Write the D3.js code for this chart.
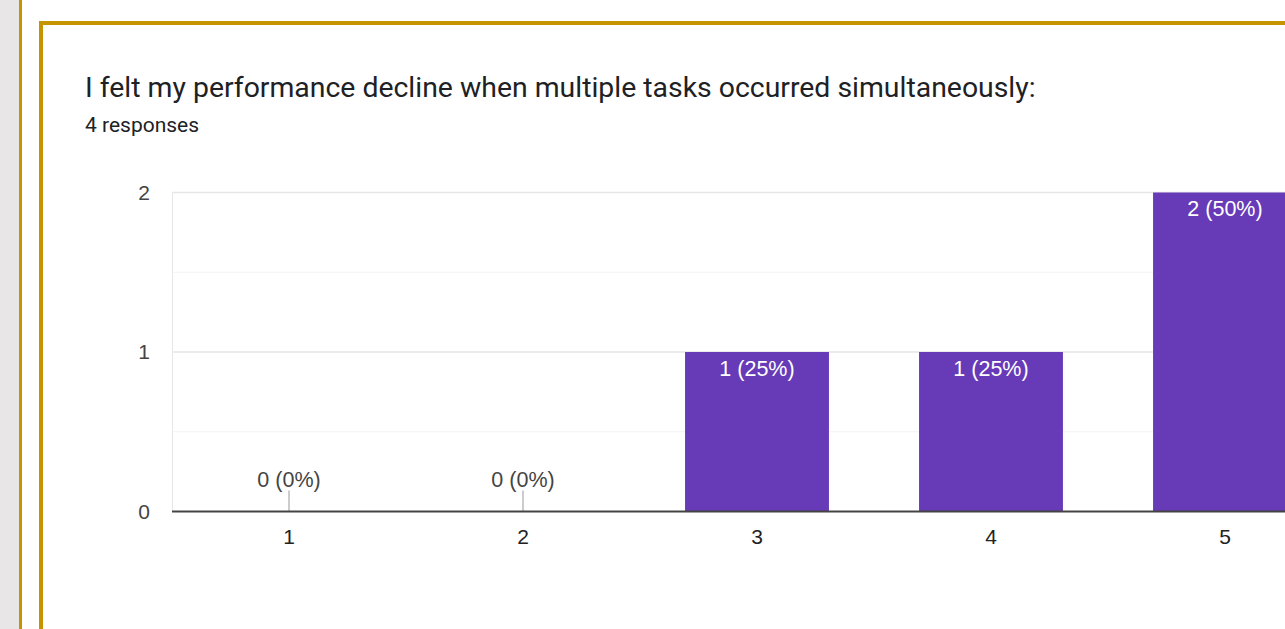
<!DOCTYPE html>
<html>
<head>
<meta charset="utf-8">
<script src="https://cdn.jsdelivr.net/npm/d3@7"></script>
<style>
  html, body { margin: 0; padding: 0; background: #ffffff; overflow: hidden; }
  svg { display: block; }
</style>
</head>
<body>
<svg id="chart" width="1285" height="629"></svg>
<script>
// Survey question and answers
const title = "I felt my performance decline when multiple tasks occurred simultaneously:";
const subtitle = "4 responses";
const categories = ["1", "2", "3", "4", "5"];
const counts = [0, 0, 1, 1, 2];
const percents = ["0%", "0%", "25%", "25%", "50%"];
const yTicks = [0, 1, 2];
const yMinorTicks = [0.5, 1.5];

const svg = d3.select("#chart");
const W = 1285, H = 629;
const gold = "#c59400";
const labelFont = "Arial, 'Liberation Sans', sans-serif";

// Page frame: grey side strip, outer gold rule, inner gold card border
svg.append("rect").attr("x", 0).attr("y", 0).attr("width", W).attr("height", H).attr("fill", "#ffffff");
svg.append("rect").attr("x", 0).attr("y", 0).attr("width", 19).attr("height", H).attr("fill", "#e8e6e6");
svg.append("rect").attr("x", 19).attr("y", 0).attr("width", 3).attr("height", H).attr("fill", gold);
svg.append("rect").attr("x", 41).attr("y", 23).attr("width", W + 20).attr("height", H + 20)
  .attr("fill", "#ffffff").attr("stroke", gold).attr("stroke-width", 4);

// Heading
svg.append("text").attr("x", 85).attr("y", 97)
  .attr("font-family", "Roboto, sans-serif").attr("font-size", 28.4).attr("fill", "#202124")
  .text(title);
svg.append("text").attr("x", 85).attr("y", 132)
  .attr("font-family", "Roboto, sans-serif").attr("font-size", 21).attr("fill", "#202124")
  .text(subtitle);

// Scales
const x = d3.scaleBand().domain(categories).range([172, 1342])
  .paddingInner(0.385).paddingOuter(0.1925);
const y = d3.scaleLinear().domain([0, 2]).range([511.5, 192.5]);

const plot = svg.append("g");

// Gridlines
plot.selectAll("line.minor").data(yMinorTicks).join("line")
  .attr("x1", 172).attr("x2", W).attr("y1", d => y(d)).attr("y2", d => y(d))
  .attr("stroke", "#f3f3f3").attr("stroke-width", 1);
plot.selectAll("line.major").data(yTicks.filter(d => d > 0)).join("line")
  .attr("x1", 172).attr("x2", W).attr("y1", d => y(d)).attr("y2", d => y(d))
  .attr("stroke", "#e6e6e6").attr("stroke-width", 1.5);
plot.append("line").attr("x1", 172.5).attr("x2", 172.5).attr("y1", y(2)).attr("y2", y(0))
  .attr("stroke", "#e6e6e6").attr("stroke-width", 1);

// Bars
const data = categories.map((c, i) => ({ c, v: counts[i], p: percents[i] }));
plot.selectAll("rect.bar").data(data.filter(d => d.v > 0)).join("rect")
  .attr("class", "bar")
  .attr("x", d => x(d.c)).attr("width", x.bandwidth())
  .attr("y", d => y(d.v)).attr("height", d => y(0) - y(d.v))
  .attr("fill", "#673ab7");

// Value labels
plot.selectAll("text.val").data(data).join("text")
  .attr("class", "val")
  .attr("x", d => x(d.c) + x.bandwidth() / 2)
  .attr("y", d => d.v > 0 ? y(d.v) + 16 : y(0) - 32)
  .attr("dy", "0.35em")
  .attr("text-anchor", "middle")
  .attr("font-family", labelFont).attr("font-size", 21.5)
  .attr("fill", d => d.v > 0 ? "#ffffff" : "#444444")
  .text(d => `${d.v} (${d.p})`);

// Stems for empty categories
plot.selectAll("line.stem").data(data.filter(d => d.v === 0)).join("line")
  .attr("x1", d => x(d.c) + x.bandwidth() / 2).attr("x2", d => x(d.c) + x.bandwidth() / 2)
  .attr("y1", y(0) - 21).attr("y2", y(0))
  .attr("stroke", "#999999").attr("stroke-width", 1);

// Baseline
plot.append("line").attr("x1", 172).attr("x2", W).attr("y1", y(0)).attr("y2", y(0))
  .attr("stroke", "#444444").attr("stroke-width", 2);

// Axes
const xAxis = svg.append("g").attr("transform", `translate(0,${y(0)})`)
  .call(d3.axisBottom(x).tickSize(0).tickPadding(0));
xAxis.select(".domain").remove();
xAxis.selectAll("text").attr("font-family", labelFont)
  .attr("font-size", 21).attr("fill", "#222222").attr("y", 25).attr("dy", "0.35em");

const yAxis = svg.append("g").attr("transform", "translate(172,0)")
  .call(d3.axisLeft(y).tickValues(yTicks).tickFormat(d3.format("d")).tickSize(0).tickPadding(22));
yAxis.select(".domain").remove();
yAxis.selectAll("text").attr("font-family", labelFont)
  .attr("font-size", 21).attr("fill", "#444444");
</script>
</body>
</html>
